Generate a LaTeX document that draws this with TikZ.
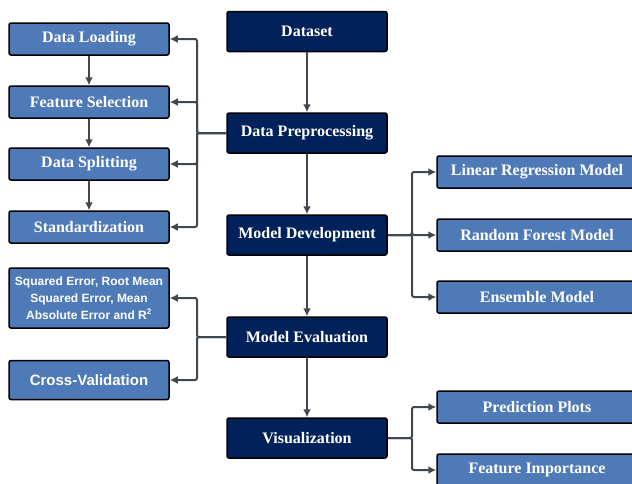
\documentclass[tikz,border=0pt]{standalone}
\usepackage{fontspec}
\setmainfont{Liberation Serif}
\newfontfamily\arialfont{Liberation Sans}
\usetikzlibrary{arrows.meta}

\newlength{\du}
\setlength{\du}{1pt}

\begin{document}
\begin{tikzpicture}[
  mainbox/.style={draw=black, line width=1.5\du, rounded corners=2\du, fill=navybox, text=white,
    minimum width=160\du, minimum height=40\du, inner sep=0pt,
    font=\fontsize{16}{19}\selectfont\bfseries},
  subbox/.style={mainbox, fill=bluebox, minimum height=32\du},
  modelbox/.style={subbox, minimum width=200\du},
  sansbox/.style={subbox, font=\arialfont\bfseries, align=center},
  link/.style={draw=linkgray, line width=2\du, rounded corners=2\du, -{Latex[length=8pt,width=8pt]}},
]
\pgftransformxscale{1.000000}
\pgftransformyscale{-1.000000}
\definecolor{navybox}{rgb}{0.000000, 0.129412, 0.352941}
\definecolor{bluebox}{rgb}{0.309804, 0.478431, 0.721569}
\definecolor{linkgray}{rgb}{0.250980, 0.278431, 0.309804}
\useasboundingbox (0\du,0\du) rectangle (632\du,483\du);

% centre column
\node[mainbox] (dataset) at (307\du,31.5\du) {Dataset};
\node[mainbox] (prep) at (307\du,133\du) {Data Preprocessing};
\node[mainbox] (dev) at (307\du,235\du) {Model Development};
\node[mainbox] (eval) at (307\du,337\du) {Model Evaluation};
\node[mainbox] (vis) at (307\du,438\du) {Visualization};

% preprocessing steps
\node[subbox] (load) at (89\du,39\du) {Data Loading};
\node[subbox] (feat) at (89\du,102\du) {Feature Selection};
\node[subbox] (split) at (89\du,164\du) {Data Splitting};
\node[subbox] (std) at (89\du,227\du) {Standardization};

% evaluation
\node[sansbox, minimum height=60\du, font=\arialfont\bfseries\fontsize{12}{17}\selectfont] (metrics) at (89\du,298\du)
  {Squared Error, Root Mean\\Squared Error, Mean\\Absolute Error and R\textsuperscript{2}};
\node[sansbox, minimum height=39\du, font=\arialfont\bfseries\fontsize{15}{18}\selectfont] (cv) at (89\du,380\du) {Cross-Validation};

% models
\node[modelbox] (linreg) at (537\du,172\du) {Linear Regression Model};
\node[modelbox] (forest) at (537\du,235\du) {Random Forest Model};
\node[modelbox] (ensemble) at (537\du,297\du) {Ensemble Model};

% plots
\node[modelbox] (predplot) at (537\du,407\du) {Prediction Plots};
\node[modelbox] (importance) at (537\du,470\du) {Feature Importance};

\coordinate (prepbus) at (197\du,133\du);
\coordinate (evalbus) at (197\du,337\du);
\coordinate (devbus) at (412\du,235\du);
\coordinate (visbus) at (412\du,438\du);

% main flow
\draw[link] (dataset) -- (prep);
\draw[link] (prep) -- (dev);
\draw[link] (dev) -- (eval);
\draw[link] (eval) -- (vis);

% left chain
\draw[link] (load) -- (feat);
\draw[link] (feat) -- (split);
\draw[link] (split) -- (std);

\foreach \target in {load,feat,split,std}
  \draw[link] (prep.west) -- (prepbus) |- (\target.east);
\foreach \target in {metrics,cv}
  \draw[link] (eval.west) -- (evalbus) |- (\target.east);
\foreach \target in {linreg,forest,ensemble}
  \draw[link] (dev.east) -- (devbus) |- (\target.west);
\foreach \target in {predplot,importance}
  \draw[link] (vis.east) -- (visbus) |- (\target.west);
\end{tikzpicture}
\end{document}
